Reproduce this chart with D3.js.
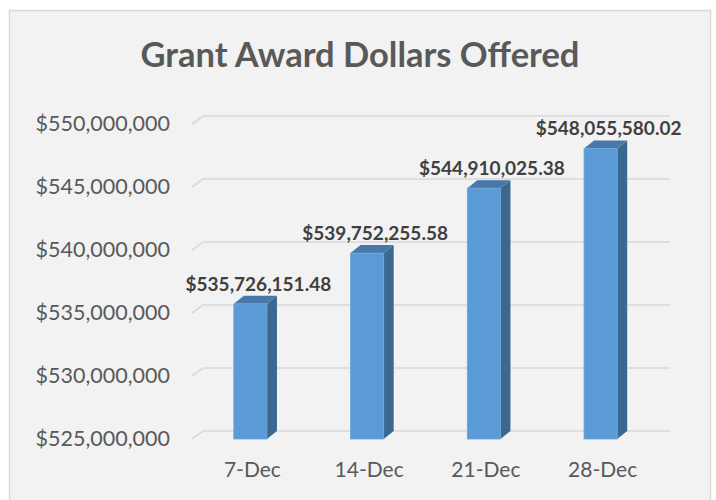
<!DOCTYPE html>
<html>
<head>
<meta charset="utf-8">
<script src="https://cdn.jsdelivr.net/npm/d3@7"></script>
<style>
  body { margin: 0; background: #fff; }
  svg { display: block; }
</style>
</head>
<body>
<div id="chart"></div>
<script>
// Data
const categories = ["7-Dec", "14-Dec", "21-Dec", "28-Dec"];
const values = [535726151.48, 539752255.58, 544910025.38, 548055580.02];
const yTicks = [525000000, 530000000, 535000000, 540000000, 545000000, 550000000];
const title = "Grant Award Dollars Offered";

const W = 716, H = 500;
const wallDx = 11, wallDy = -8;   // depth of the back wall
const barDx = 10, barDy = -8;     // depth of each column

const svg = d3.select("#chart").append("svg")
  .attr("width", W)
  .attr("height", H);

// chart area
svg.append("rect")
  .attr("x", 9.5).attr("y", 10.5)
  .attr("width", 701).attr("height", 500)
  .attr("fill", "#f2f2f2")
  .attr("stroke", "#d9d9d9")
  .attr("stroke-width", 1.5);

// scales (front plane)
const xScale = d3.scaleBand()
  .domain(categories)
  .range([192, 659])
  .paddingInner(0.716)
  .paddingOuter(0.358);

const yScale = d3.scaleLinear()
  .domain([525000000, 550000000])
  .range([439, 124]);

// title
svg.append("text")
  .attr("x", 360)
  .attr("y", 67)
  .attr("text-anchor", "middle")
  .style("font-family", "Lato, 'Open Sans', sans-serif")
  .style("font-weight", "bold")
  .style("font-size", "34.5px")
  .attr("fill", "#595959")
  .text(title);

// gridlines with 3D wall offset
svg.append("g")
  .attr("class", "grid")
  .selectAll("path")
  .data(yTicks)
  .join("path")
  .attr("d", d => {
    const y = yScale(d);
    return `M192,${y}L${192 + wallDx},${y + wallDy}L${659 + wallDx},${y + wallDy}`;
  })
  .attr("fill", "none")
  .attr("stroke", "#d9d9d9")
  .attr("stroke-width", 1.6);

// y axis
const yAxis = svg.append("g")
  .attr("transform", "translate(192,0)")
  .call(d3.axisLeft(yScale)
    .tickValues(yTicks)
    .tickSize(0)
    .tickPadding(22)
    .tickFormat(d => "$" + d3.format(",")(d)));
yAxis.select(".domain").remove();
yAxis.selectAll("text")
  .style("font-family", "Lato, 'Open Sans', sans-serif")
  .style("font-size", "21.5px")
  .attr("fill", "#595959");

// x axis
const xAxis = svg.append("g")
  .attr("transform", "translate(2,439)")
  .call(d3.axisBottom(xScale).tickSize(0).tickPadding(23));
xAxis.select(".domain").remove();
xAxis.selectAll("text")
  .style("font-family", "Lato, 'Open Sans', sans-serif")
  .style("font-size", "21px")
  .attr("fill", "#595959");

// columns
const bars = svg.selectAll(".bar")
  .data(categories.map((c, i) => ({ cat: c, value: values[i] })))
  .join("g")
  .attr("class", "bar");

const y0 = yScale(525000000);

// side face
bars.append("path")
  .attr("d", d => {
    const x1 = xScale(d.cat) + xScale.bandwidth();
    const yt = yScale(d.value);
    return `M${x1},${yt}L${x1 + barDx},${yt + barDy}L${x1 + barDx},${y0 + barDy}L${x1},${y0}Z`;
  })
  .attr("fill", "#3b6890");

// top face
bars.append("path")
  .attr("d", d => {
    const x0 = xScale(d.cat), x1 = x0 + xScale.bandwidth();
    const yt = yScale(d.value);
    return `M${x0},${yt}L${x0 + barDx},${yt + barDy}L${x1 + barDx},${yt + barDy}L${x1},${yt}Z`;
  })
  .attr("fill", "#4778a9");

// front face
bars.append("rect")
  .attr("x", d => xScale(d.cat))
  .attr("y", d => yScale(d.value))
  .attr("width", xScale.bandwidth())
  .attr("height", d => y0 - yScale(d.value))
  .attr("fill", "#5b9bd5")
  .attr("stroke", "#6aa6dc")
  .attr("stroke-width", 0.8);

// value labels
bars.append("text")
  .attr("x", d => xScale(d.cat) + xScale.bandwidth() / 2 + 8)
  .attr("y", d => yScale(d.value) + barDy - 5)
  .attr("text-anchor", "middle")
  .style("font-family", "Lato, 'Open Sans', sans-serif")
  .style("font-weight", "bold")
  .style("font-size", "19px")
  .attr("fill", "#404040")
  .text(d => "$" + d3.format(",.2f")(d.value));
</script>
</body>
</html>
